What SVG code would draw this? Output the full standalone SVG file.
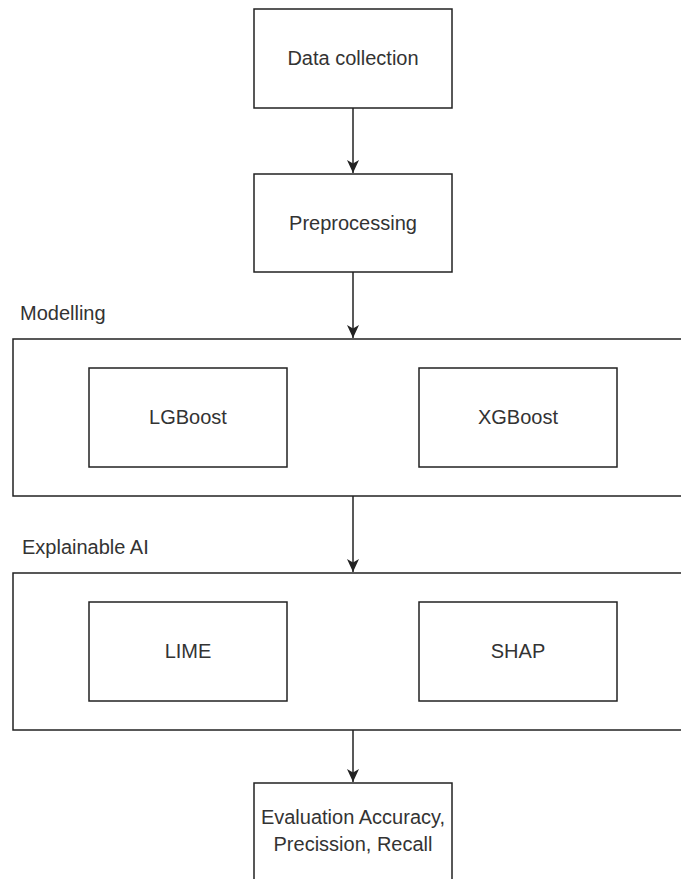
<svg xmlns="http://www.w3.org/2000/svg" width="681" height="879" viewBox="0 0 681 879">
<style>
.box{fill:#fff;stroke:#222;stroke-width:1.5}
.t{font-family:"Liberation Sans",Arial,sans-serif;font-size:20px;fill:#333}
.c{text-anchor:middle}
.edge{stroke:#222;stroke-width:1.5;fill:none}
</style>
<defs>
<marker id="ah" markerWidth="14" markerHeight="14" refX="13" refY="6.5" orient="auto" markerUnits="userSpaceOnUse">
<path d="M0,0.5 L13,6.5 L0,12.5 L3.5,6.5 Z" fill="#222"/>
</marker>
</defs>
<rect width="681" height="879" fill="#fff"/>
<g id="modelling">
<rect class="box" x="13" y="339" width="700" height="157"/>
<text class="t" x="20" y="320">Modelling</text>
</g>
<g id="explainable">
<rect class="box" x="13" y="573" width="700" height="157"/>
<text class="t" x="22" y="554">Explainable AI</text>
</g>
<g id="data">
<rect class="box" x="254" y="9" width="198" height="99"/>
<text class="t c" x="353" y="65">Data collection</text>
</g>
<g id="pre">
<rect class="box" x="254" y="174" width="198" height="98"/>
<text class="t c" x="353" y="230">Preprocessing</text>
</g>
<g id="lgb">
<rect class="box" x="89" y="368" width="198" height="99"/>
<text class="t c" x="188" y="424">LGBoost</text>
</g>
<g id="xgb">
<rect class="box" x="419" y="368" width="198" height="99"/>
<text class="t c" x="518" y="424">XGBoost</text>
</g>
<g id="lime">
<rect class="box" x="89" y="602" width="198" height="99"/>
<text class="t c" x="188" y="658">LIME</text>
</g>
<g id="shap">
<rect class="box" x="419" y="602" width="198" height="99"/>
<text class="t c" x="518" y="658">SHAP</text>
</g>
<g id="eval">
<rect class="box" x="254" y="783" width="198" height="120"/>
<text class="t c" x="353" y="824">Evaluation Accuracy,</text>
<text class="t c" x="353" y="851">Precission, Recall</text>
</g>
<g id="connectors">
<line class="edge" x1="353" y1="108" x2="353" y2="173" marker-end="url(#ah)"/>
<line class="edge" x1="353" y1="272" x2="353" y2="338" marker-end="url(#ah)"/>
<line class="edge" x1="353" y1="496" x2="353" y2="572" marker-end="url(#ah)"/>
<line class="edge" x1="353" y1="730" x2="353" y2="782" marker-end="url(#ah)"/>
</g>
</svg>
